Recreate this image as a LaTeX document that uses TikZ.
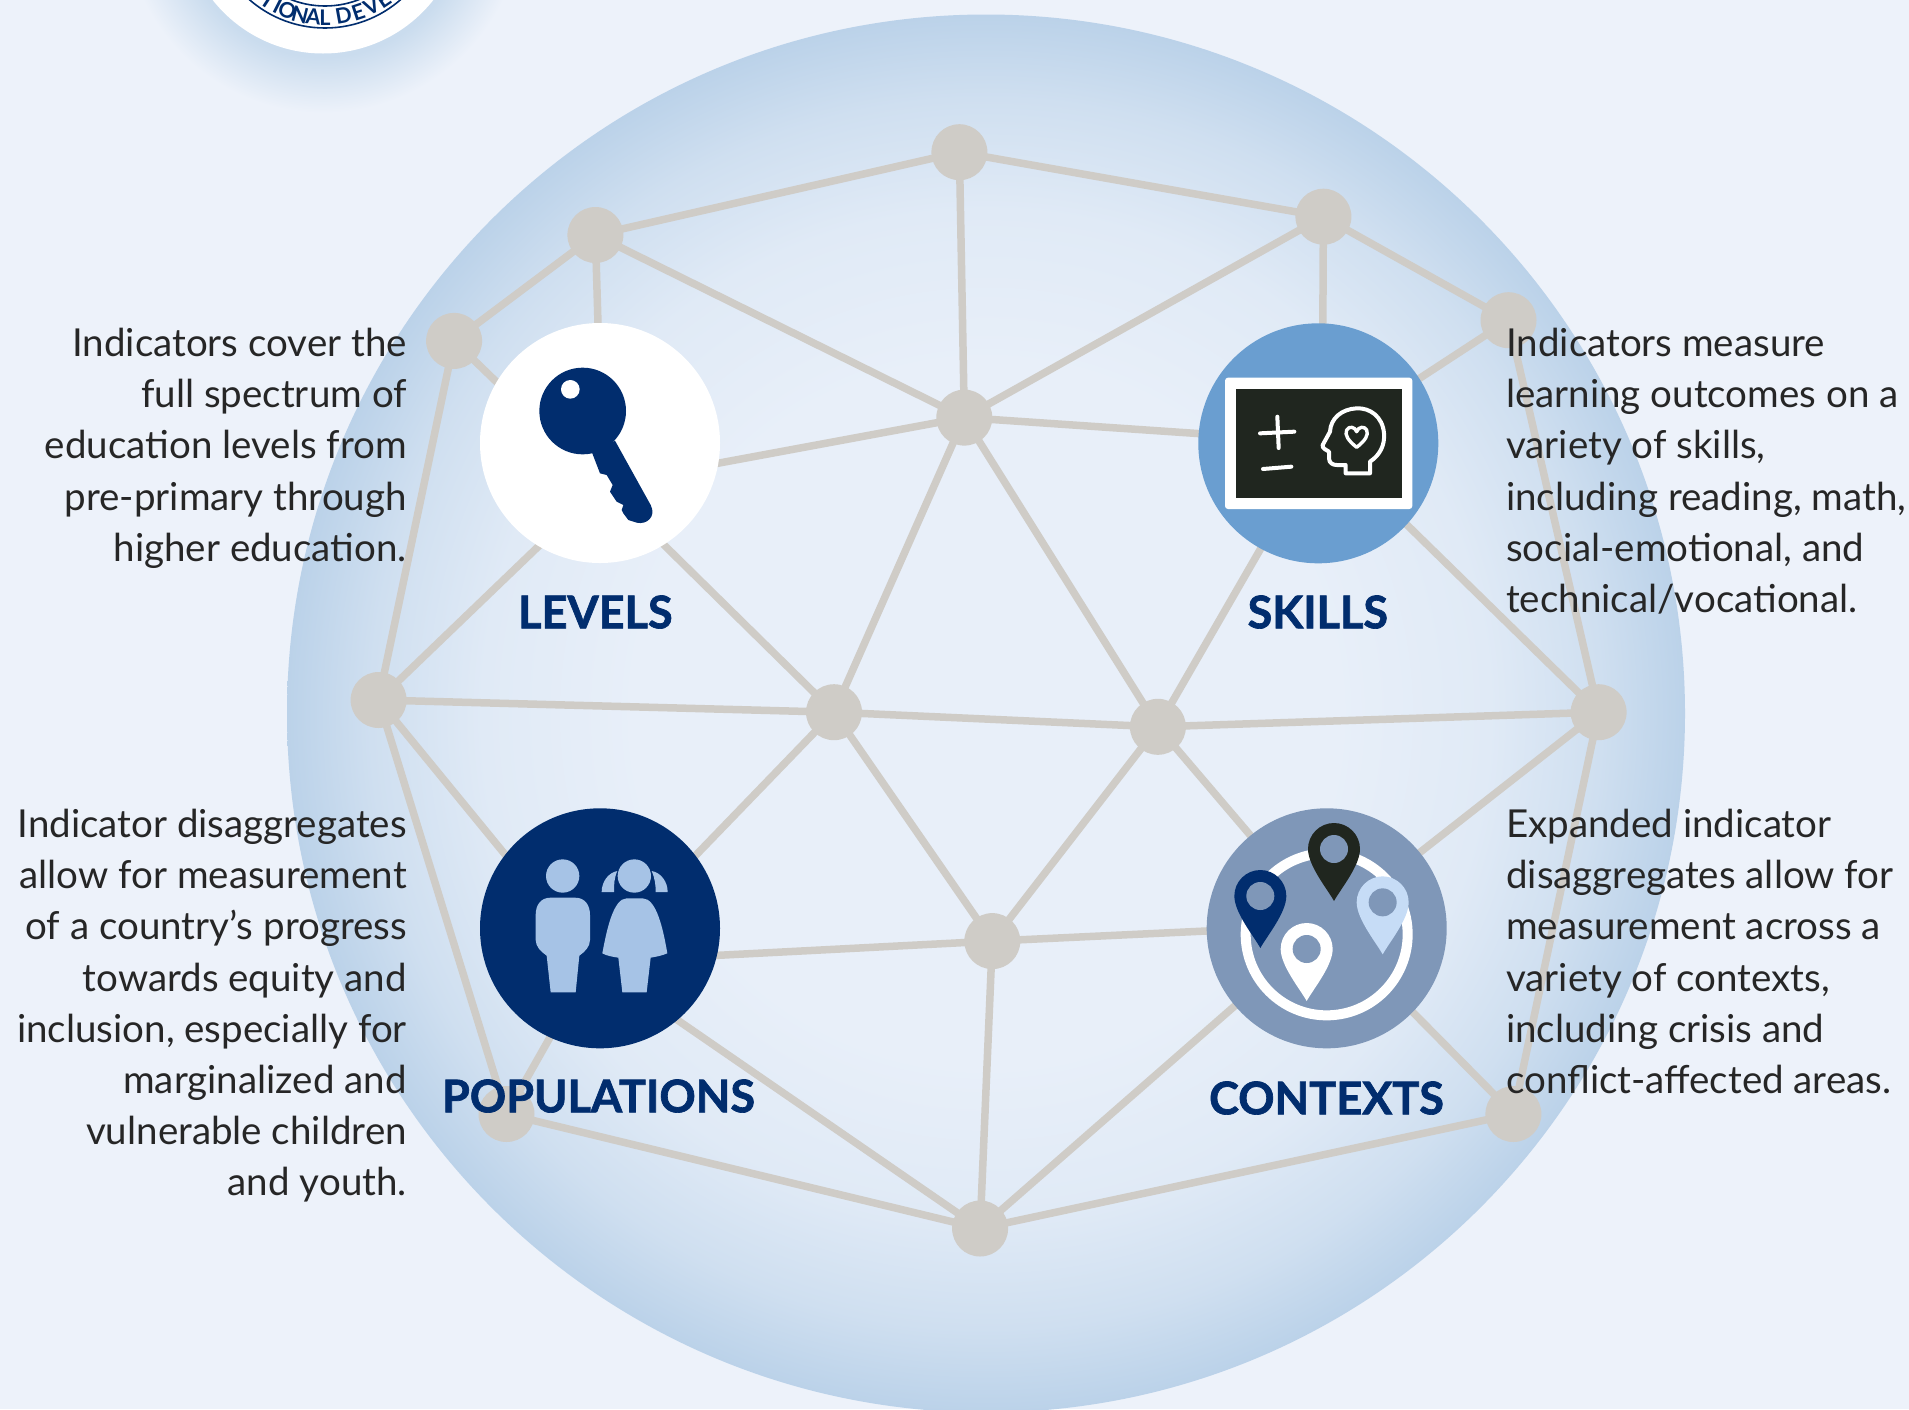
\documentclass[tikz,border=0pt]{standalone}
\usepackage{fontspec}
\setmainfont{Lato}
\newfontfamily\labfont[BoldFeatures={FakeBold=1.5}]{Lato}
\pgfdeclarelayer{baselayer}
\pgfdeclarelayer{edgelayer}
\pgfsetlayers{baselayer,edgelayer,main}
\definecolor{bgc}{HTML}{EDF2FA}
\definecolor{navy}{HTML}{012D6E}
\definecolor{meshc}{HTML}{CFCCC7}
\definecolor{skyc}{HTML}{6A9ED0}
\definecolor{steelc}{HTML}{7F97B8}
\definecolor{paleb}{HTML}{A6C3E6}
\definecolor{palec}{HTML}{C6DCF6}
\definecolor{boardc}{HTML}{20261F}
\definecolor{sa}{HTML}{E8EFF9}
\definecolor{sb}{HTML}{E0EAF6}
\definecolor{sc}{HTML}{CFDFF0}
\definecolor{sd}{HTML}{BBD2E9}
\definecolor{sha}{HTML}{CADCEE}
\pgfdeclareradialshading{spheregrad}{\pgfpoint{0bp}{0bp}}{color(0bp)=(sa);color(12.5bp)=(sa);color(18bp)=(sb);color(22bp)=(sc);color(25bp)=(sd);color(100bp)=(sd)}
\pgfdeclareradialshading{logoshadow}{\pgfpoint{0bp}{0bp}}{color(0bp)=(sha);color(18bp)=(sha);color(25bp)=(bgc);color(100bp)=(bgc)}
\tikzset{
  mesh/.style={circle,fill=meshc,minimum size=56pt,inner sep=0pt},
  edge/.style={draw=meshc,line width=7.5pt},
  icon/.style={circle,minimum size=240pt,inner sep=0pt},
  lab/.style={text=navy,font=\fontsize{45}{48}\labfont\bfseries,inner sep=0pt},
  bodytext/.style={text=black!85,font=\fontsize{38.5}{51.2}\selectfont,inner sep=0pt},
  sealletter/.style={text=navy,font=\fontsize{21.5}{22}\selectfont\bfseries,inner sep=0pt},
  whitestroke/.style={draw=white,line width=4pt,line cap=round,line join=round}
}
\newcommand{\pinicon}[3]{%
  \begin{scope}[shift={(#1,#2)}]
    \fill[#3] (0,156) .. controls (-20,120) and (-78,50) .. (-78,0)
      .. controls (-78,-43) and (-43,-78) .. (0,-78)
      .. controls (43,-78) and (78,-43) .. (78,0)
      .. controls (78,50) and (20,120) .. (0,156) -- cycle;
    \fill[steelc] (0,0) circle (42);
  \end{scope}}
\begin{document}
\begin{tikzpicture}[x=1pt,y=-1pt]
\useasboundingbox (0,0) rectangle (1909,1409);
\begin{pgfonlayer}{baselayer}
\fill[bgc] (0,0) rectangle (1909,1409);
\node[circle,minimum size=400pt,inner sep=0pt,shading=logoshadow] (logoglow) at (323,-87) {};
\node[circle,fill=white,minimum size=281pt,inner sep=0pt] (logo) at (323,-87) {};
\draw[navy,line width=1.6pt] (325,-87) circle (115);
\draw[navy,line width=1.6pt] (325,-87) circle (93);
\foreach \ch/\ang/\idx in {T/-33.1/1,I/-26.9/2,O/-21.2/3,N/-13.8/4,A/-6.4/5,L/0/6,D/10.2/7,E/18.6/8,V/26.5/9,E/34/10}
  {\pgfmathsetmacro{\xx}{325+104.5*sin(\ang)}
   \pgfmathsetmacro{\yy}{-87+104.5*cos(\ang)}
   \node[sealletter,rotate=\ang] (seal\idx) at (\xx,\yy) {\ch};}
\node[circle,minimum size=1398pt,inner sep=0pt,shading=spheregrad] (sphere) at (986,713.5) {};
\end{pgfonlayer}
% mesh nodes
\node[mesh] (top) at (959.4,152.2) {};
\node[mesh] (na) at (595.4,235) {};
\node[mesh] (nb) at (1323.4,216.7) {};
\node[mesh] (nc) at (454.1,340.9) {};
\node[mesh] (nd) at (1508.5,320.2) {};
\node[mesh] (ctr) at (964.3,417.6) {};
\node[mesh] (ne) at (378.6,700) {};
\node[mesh] (nf) at (834,712.2) {};
\node[mesh] (ng) at (1157.9,726.8) {};
\node[mesh] (nh) at (1598.6,712.2) {};
\node[mesh] (ni) at (992.3,941.1) {};
\node[mesh] (nj) at (506.5,1114) {};
\node[mesh] (nk) at (1513.4,1114) {};
\node[mesh] (nl) at (980.1,1228.5) {};
\coordinate (hl) at (602.7,484.6);
\coordinate (hs) at (1322.2,442);
\coordinate (hp) at (592.9,961.8);
\coordinate (hc) at (1327,925.3);
\begin{pgfonlayer}{edgelayer}
\foreach \p/\q in {top/na,top/nb,top/ctr,na/nc,na/ctr,na/hl,nb/nd,nb/ctr,nb/hs,nc/ne,nc/hl,
  nd/nh,nd/hs,ctr/hl,ctr/hs,ctr/nf,ctr/ng,ne/hl,ne/nf,nf/ng,ng/nh,ne/nj,ne/hp,nf/hl,nf/hp,nf/ni,
  ng/hs,ng/hc,ng/ni,nh/hs,nh/hc,nh/nk,ni/hp,ni/hc,ni/nl,nj/hp,nj/nl,nk/nl,nk/hc,nl/hp,nl/hc}
  {\draw[edge] (\p.center) -- (\q.center);}
\end{pgfonlayer}
% levels
\node[icon,fill=white] (levels) at (600,443) {};
\begin{scope}[shift={(460,310)},scale=1/3]
  \fill[navy] (368,303) circle (130);
  \fill[navy] (465,392) -- (572,585) .. controls (590,620) and (560,645) .. (530,638)
    -- (505,630) -- (490,610) -- (485,600) -- (490,585) -- (470,575) -- (450,545)
    -- (458,525) -- (440,495) -- (420,490) -- (395,425) -- cycle;
  \fill[white] (331,238) circle (28);
\end{scope}
% skills
\node[icon,fill=skyc] (skills) at (1318.3,443.3) {};
\begin{scope}[shift={(1180,310)},scale=1/3]
  \fill[white,rounded corners=3pt] (135,203) rectangle (697,597);
  \fill[boardc] (167,236) rectangle (665,564);
  \draw[whitestroke] (240,370) -- (343,365);
  \draw[whitestroke] (292,320) -- (296,414);
  \draw[whitestroke] (249,477) -- (334,470);
  \draw[whitestroke] (497,490) -- (570,490) -- (570,455)
    .. controls (600,435) and (615,405) .. (612,370)
    .. controls (608,320) and (570,293) .. (530,295)
    .. controls (485,297) and (452,325) .. (450,365)
    -- (428,405) .. controls (425,415) and (440,420) .. (447,425)
    -- (447,445) .. controls (447,460) and (460,465) .. (470,465)
    -- (497,465) -- cycle;
  \draw[whitestroke,line width=3.4pt] (530,412) .. controls (505,392) and (493,375) .. (500,360)
    .. controls (507,347) and (525,350) .. (530,365)
    .. controls (535,350) and (553,347) .. (560,360)
    .. controls (567,375) and (555,392) .. (530,412) -- cycle;
\end{scope}
% populations
\node[icon,fill=navy] (populations) at (600,928.3) {};
\begin{scope}[shift={(460,790)},scale=1/3]
  \fill[paleb] (308,258) circle (50);
  \fill[paleb] (272,323) -- (345,323) .. controls (375,323) and (390,345) .. (390,375)
    -- (390,450) .. controls (390,470) and (375,485) .. (358,497)
    -- (347,607) -- (272,607) -- (260,497)
    .. controls (243,485) and (227,470) .. (227,450)
    -- (227,375) .. controls (227,345) and (242,323) .. (272,323) -- cycle;
  \fill[paleb] (523,258) circle (50);
  \fill[paleb] (425,306) .. controls (425,275) and (445,248) .. (472,243) .. controls (462,265) and (462,285) .. (462,306) -- cycle;
  \fill[paleb] (623,306) .. controls (623,275) and (603,248) .. (575,243) .. controls (585,265) and (587,285) .. (587,306) -- cycle;
  \fill[paleb] (427,490) .. controls (440,420) and (460,325) .. (500,325)
    -- (548,325) .. controls (590,325) and (610,420) .. (622,490)
    .. controls (605,497) and (590,500) .. (572,503)
    -- (560,607) -- (487,607) -- (475,503)
    .. controls (455,500) and (440,497) .. (427,490) -- cycle;
\end{scope}
% contexts
\node[icon,fill=steelc] (contexts) at (1326.7,928.3) {};
\begin{scope}[shift={(1190,790)},scale=1/3]
  \draw[white,line width=10pt] (410,433) circle (243);
  \pinicon{432}{177}{boardc}
  \pinicon{211}{318}{navy}
  \pinicon{578}{337}{palec}
  \pinicon{350}{477}{white}
\end{scope}
% labels
\node[lab] (ll) at (595.4,612) {LEVELS};
\node[lab] (ls) at (1317.8,612) {SKILLS};
\node[lab] (lp) at (598.5,1096) {POPULATIONS};
\node[lab] (lc) at (1326.5,1098) {CONTEXTS};
% texts
\node[bodytext,align=right,anchor=north east] (t1) at (407,328)
  {Indicators cover the\\full spectrum of\\education levels from\\pre-primary through\\higher education.};
\node[bodytext,align=right,anchor=north east] (t2) at (407,809)
  {Indicator disaggregates\\allow for measurement\\of a country’s progress\\towards equity and\\inclusion, especially for\\marginalized and\\vulnerable children\\and youth.};
\node[bodytext,align=left,anchor=north west] (t3) at (1506,328)
  {Indicators measure\\learning outcomes on a\\variety of skills,\\including reading, math,\\social-emotional, and\\technical/vocational.};
\node[bodytext,align=left,anchor=north west] (t4) at (1506,809)
  {Expanded indicator\\disaggregates allow for\\measurement across a\\variety of contexts,\\including crisis and\\conflict-affected areas.};
\end{tikzpicture}
\end{document}
